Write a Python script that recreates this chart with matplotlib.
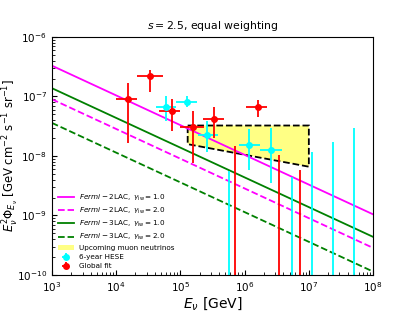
import numpy as np
import matplotlib
matplotlib.use("Agg")
import matplotlib.pyplot as plt

# Model lines: normalisation at E = 1e3 GeV, E^2 Phi ∝ E^(2-s), s = 2.5
E_line = np.array([1e3, 1e8])
norm_2lac_1 = 3.3e-7
norm_2lac_2 = 9.0e-8
norm_3lac_1 = 1.38e-7
norm_3lac_2 = 3.6e-8
s_index = 2.5

# Upcoming muon neutrinos band (polygon)
band_E = [1.3e5, 1.0e7, 1.0e7, 1.3e5]
band_F = [3.25e-8, 3.25e-8, 6.6e-9, 1.58e-8]

# Global fit (red)
gf_E = [1.55e4, 3.4e4, 7.3e4, 1.55e5, 3.3e5, 1.6e6]
gf_F = [9.1e-8, 2.24e-7, 5.6e-8, 3.1e-8, 4.2e-8, 6.7e-8]
gf_Elo = [1.0e4, 2.15e4, 4.7e4, 1.0e5, 2.25e5, 1.05e6]
gf_Ehi = [2.15e4, 5.4e4, 1.0e5, 2.35e5, 4.7e5, 2.25e6]
gf_Flo = [1.66e-8, 1.2e-7, 2.6e-8, 7.6e-9, 2.0e-8, 4.6e-8]
gf_Fhi = [1.7e-7, 2.8e-7, 8.9e-8, 5.7e-8, 6.7e-8, 8.7e-8]
gf_ul_E = [7.2e5, 3.4e6, 7.2e6]
gf_ul_F = [1.47e-8, 1.05e-8, 5.7e-9]

# 6-year HESE (cyan)
hese_E = [6.0e4, 1.26e5, 2.6e5, 1.18e6, 2.6e6]
hese_F = [6.7e-8, 8.2e-8, 2.25e-8, 1.53e-8, 1.26e-8]
hese_Elo = [4.2e4, 8.5e4, 1.86e5, 8.3e5, 1.74e6]
hese_Ehi = [8.5e4, 1.82e5, 3.9e5, 1.74e6, 3.8e6]
hese_Flo = [3.8e-8, 6.6e-8, 1.15e-8, 5.7e-9, 3.5e-9]
hese_Fhi = [1.02e-7, 1.02e-7, 3.8e-8, 2.8e-8, 2.9e-8]
hese_ul_E = [5.7e5, 5.4e6, 1.1e7, 2.4e7, 5.0e7]
hese_ul_F = [5.6e-9, 4.5e-9, 1.18e-8, 1.74e-8, 3.0e-8]

fig = plt.figure(figsize=(4.15, 3.11), dpi=100)
ax = fig.add_axes([0.125, 0.116, 0.774, 0.765])

def line(norm):
    return norm * (E_line / 1e3) ** (2 - s_index)

ax.plot(E_line, line(norm_2lac_1), color='magenta', lw=1.3,
        label=r'$Fermi-{\rm 2LAC},\ \gamma_{\rm iw}=1.0$')
ax.plot(E_line, line(norm_2lac_2), color='magenta', lw=1.3, ls='--',
        label=r'$Fermi-{\rm 2LAC},\ \gamma_{\rm iw}=2.0$')
ax.plot(E_line, line(norm_3lac_1), color='green', lw=1.3,
        label=r'$Fermi-{\rm 3LAC},\ \gamma_{\rm iw}=1.0$')
ax.plot(E_line, line(norm_3lac_2), color='green', lw=1.3, ls='--',
        label=r'$Fermi-{\rm 3LAC},\ \gamma_{\rm iw}=2.0$')

ax.fill(band_E, band_F, facecolor='#ffff66', alpha=0.8, edgecolor='none',
        label='Upcoming muon neutrinos')
ax.fill(band_E, band_F, facecolor='none', edgecolor='black', ls='--', lw=1.3)

def errs(x, lo, hi):
    x = np.array(x); lo = np.array(lo); hi = np.array(hi)
    return np.vstack([x - lo, hi - x])

ax.errorbar(hese_E, hese_F, xerr=errs(hese_E, hese_Elo, hese_Ehi),
            yerr=errs(hese_F, hese_Flo, hese_Fhi), fmt='o', color='cyan',
            ms=4, lw=1.3, label='6-year HESE')
ax.vlines(hese_ul_E, 1e-11, hese_ul_F, color='cyan', lw=1.3)
ax.errorbar(gf_E, gf_F, xerr=errs(gf_E, gf_Elo, gf_Ehi),
            yerr=errs(gf_F, gf_Flo, gf_Fhi), fmt='o', color='red',
            ms=4, lw=1.3, label='Global fit')
ax.vlines(gf_ul_E, 1e-11, gf_ul_F, color='red', lw=1.3)

ax.set_xscale('log')
ax.set_yscale('log')
ax.set_xlim(1e3, 1e8)
ax.set_ylim(1e-10, 1e-6)
ax.tick_params(which='both', direction='in', labelsize=7.5)
ax.set_xlabel(r'$E_\nu$ [GeV]', fontsize=10, labelpad=1)
ax.set_ylabel(r'$E_\nu^2\Phi_{E_\nu}$ [GeV cm$^{-2}$ s$^{-1}$ sr$^{-1}$]',
              fontsize=8.4)
ax.yaxis.set_label_coords(-0.095, 0.5)
ax.set_title(r'$s=2.5$, equal weighting', fontsize=7.8)
ax.legend(loc='lower left', fontsize=5.2, frameon=False, handlelength=2.2,
          borderaxespad=0.4, labelspacing=0.4, handletextpad=0.8)

fig.savefig('out.png', dpi=100)
